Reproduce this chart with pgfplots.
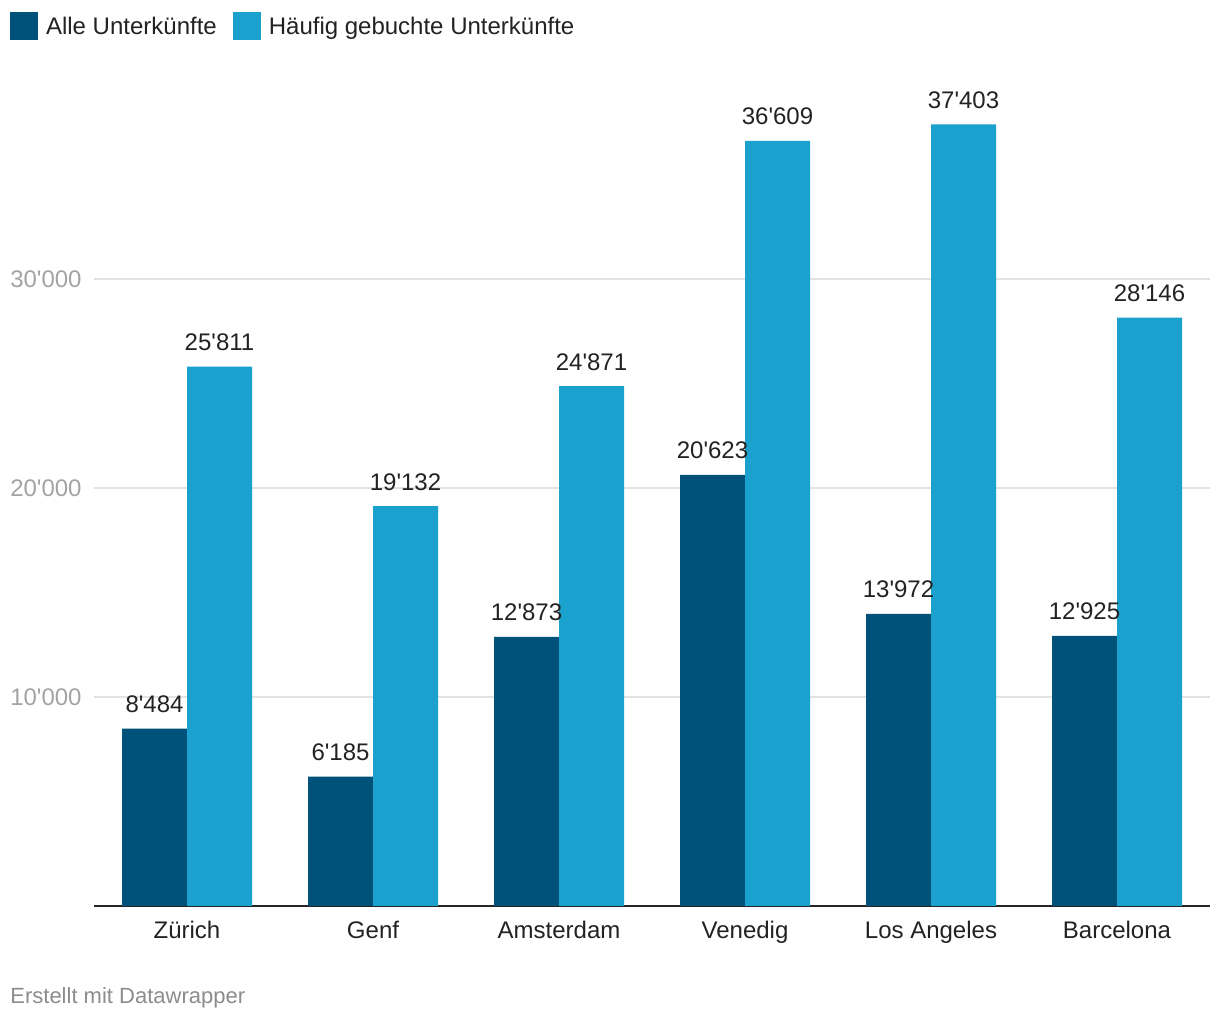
\documentclass[border=0pt]{standalone}
\usepackage{pgfplots}
\pgfplotsset{compat=1.18}
\usepackage{fontspec}
\setmainfont{Liberation Sans}
\definecolor{darkbar}{HTML}{00527A}
\definecolor{lightbar}{HTML}{1AA1CE}
\definecolor{tickgray}{HTML}{A3A3A3}
\definecolor{gridgray}{HTML}{E3E3E3}
\definecolor{txt}{HTML}{222222}
\definecolor{footgray}{HTML}{8C8C8C}
\pgfplotsset{
  sq legend/.style={legend image code/.code={\fill[##1,draw=none] (0pt,-2.75pt) rectangle (14pt,11.25pt);}}
}
\begin{document}
\begin{tikzpicture}
\path[use as bounding box] (0,0) rectangle (610pt,510pt);
\begin{axis}[
  at={(47pt,57pt)}, anchor=south west,
  scale only axis, width=558pt, height=418pt,
  xmin=-0.5, xmax=5.5, ymin=0, ymax=40000,
  enlargelimits=false, clip=false,
  ybar, bar width=32.5pt,
  xtick={0,1,2,3,4,5},
  xticklabels={Zürich,Genf,Amsterdam,Venedig,Los Angeles,Barcelona},
  ytick={10000,20000,30000},
  scaled y ticks=false,
  /pgf/number format/1000 sep={\textquotesingle},
  /pgf/number format/assume math mode=true,
  major tick length=0pt,
  axis x line*=bottom, axis y line*=left,
  y axis line style={draw=none},
  x axis line style={-, draw=black!85, line width=1pt},
  ymajorgrids, grid style={gridgray, line width=1pt},
  xticklabel style={anchor=base, yshift=-16.5pt, inner sep=0pt, font=\fontsize{12}{14}\selectfont, text=txt},
  yticklabel style={anchor=east, xshift=-6pt, inner sep=0pt, font=\fontsize{12}{14}\selectfont, text=tickgray},
  legend columns=2,
  legend cell align=left,
  legend style={at={(-0.0752,1.0694)}, anchor=north west, draw=none, fill=none,
    inner sep=0pt, outer sep=0pt, font=\fontsize{12}{14}\selectfont, text=txt,
    /tikz/every even column/.append style={column sep=8pt},
    /tikz/every odd column/.append style={column sep=4pt},
    nodes={inner sep=0pt, anchor=base west}},
  every node near coord/.append style={anchor=base, yshift=8pt, inner sep=0pt, font=\fontsize{12}{14}\selectfont, text=txt},
]
\addplot[fill=darkbar, draw=none, bar shift=-16.25pt, sq legend] coordinates {
  (0,8484) (1,6185) (2,12873) (3,20623) (4,13972) (5,12925)};
\addlegendentry{Alle Unterkünfte}
\addplot[fill=lightbar, draw=none, bar shift=16.25pt, sq legend] coordinates {
  (0,25811) (1,19132) (2,24871) (3,36609) (4,37403) (5,28146)};
\addlegendentry{Häufig gebuchte Unterkünfte}
\addplot[fill=none, draw=none, bar shift=-16.25pt, forget plot, nodes near coords] coordinates {
  (0,8484) (1,6185) (2,12873) (3,20623) (4,13972) (5,12925)};
\addplot[fill=none, draw=none, bar shift=16.25pt, forget plot, nodes near coords] coordinates {
  (0,25811) (1,19132) (2,24871) (3,36609) (4,37403) (5,28146)};
\end{axis}
\node[anchor=base west, inner sep=0pt, font=\fontsize{11}{13}\selectfont, text=footgray] at (5pt,8pt) {Erstellt mit Datawrapper};
\end{tikzpicture}
\end{document}
